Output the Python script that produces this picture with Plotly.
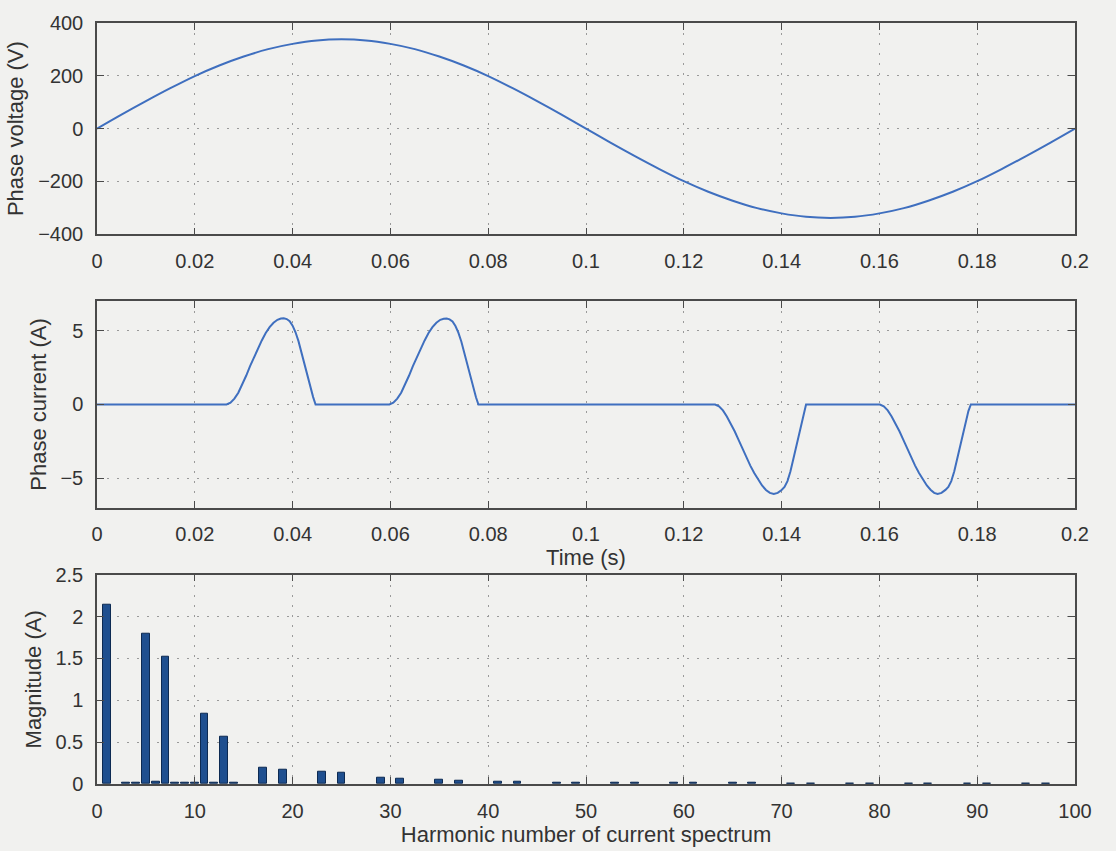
import plotly.graph_objects as go

# ---------------- data ----------------
volt_t = [0.000, 0.005, 0.010, 0.015, 0.020, 0.025, 0.030, 0.035, 0.040, 0.045,
          0.050, 0.055, 0.060, 0.065, 0.070, 0.075, 0.080, 0.085, 0.090, 0.095,
          0.100, 0.105, 0.110, 0.115, 0.120, 0.125, 0.130, 0.135, 0.140, 0.145,
          0.150, 0.155, 0.160, 0.165, 0.170, 0.175, 0.180, 0.185, 0.190, 0.195, 0.200]
volt_v = [0, 53, 104, 153, 199, 239, 273, 301, 321, 334,
          338, 334, 321, 301, 273, 239, 199, 153, 104, 53,
          0, -53, -104, -153, -199, -239, -273, -301, -321, -334,
          -338, -334, -321, -301, -273, -239, -199, -153, -104, -53, 0]

curr_t = [0.0000, 0.0100, 0.0200,
          0.0265, 0.0273, 0.0281, 0.0289, 0.0297, 0.0305, 0.0313, 0.0321, 0.0329, 0.0337,
          0.0345, 0.0353, 0.0361, 0.0369, 0.0376, 0.0382, 0.0388, 0.0394, 0.0400, 0.0406,
          0.0412, 0.0418, 0.0424, 0.0430, 0.0436, 0.0442, 0.0447,
          0.0500, 0.0550,
          0.0598, 0.0606, 0.0614, 0.0622, 0.0630, 0.0638, 0.0646, 0.0654, 0.0662, 0.0670,
          0.0678, 0.0686, 0.0694, 0.0702, 0.0709, 0.0715, 0.0721, 0.0727, 0.0733, 0.0739,
          0.0745, 0.0751, 0.0757, 0.0763, 0.0769, 0.0775, 0.0780,
          0.0900, 0.1000, 0.1100, 0.1200,
          0.1264, 0.1272, 0.1280, 0.1288, 0.1296, 0.1304, 0.1312, 0.1320, 0.1328, 0.1336,
          0.1344, 0.1352, 0.1360, 0.1368, 0.1376, 0.1384, 0.1392, 0.1400, 0.1406, 0.1412,
          0.1418, 0.1424, 0.1430, 0.1436, 0.1441, 0.1446, 0.1450,
          0.1500, 0.1550,
          0.1601, 0.1609, 0.1617, 0.1625, 0.1633, 0.1641, 0.1649, 0.1657, 0.1665, 0.1673,
          0.1681, 0.1689, 0.1697, 0.1705, 0.1712, 0.1719, 0.1727, 0.1735, 0.1741, 0.1747,
          0.1753, 0.1759, 0.1765, 0.1771, 0.1776, 0.1782, 0.1787,
          0.1850, 0.1900, 0.2000]
curr_i = [0.0, 0.0, 0.0,
          0.0, 0.12, 0.40, 0.80, 1.35, 1.95, 2.60, 3.20, 3.80, 4.35,
          4.85, 5.25, 5.55, 5.75, 5.84, 5.85, 5.80, 5.65, 5.35, 4.90,
          4.30, 3.55, 2.75, 1.90, 1.15, 0.50, 0.0,
          0.0, 0.0,
          0.0, 0.12, 0.40, 0.80, 1.35, 1.95, 2.60, 3.20, 3.80, 4.35,
          4.85, 5.25, 5.55, 5.75, 5.82, 5.83, 5.78, 5.63, 5.33, 4.88,
          4.28, 3.53, 2.73, 1.88, 1.13, 0.49, 0.0,
          0.0, 0.0, 0.0, 0.0,
          0.0, -0.12, -0.40, -0.82, -1.30, -1.82, -2.40, -3.00, -3.60, -4.15,
          -4.65, -5.10, -5.50, -5.80, -6.00, -6.07, -6.00, -5.80, -5.60, -5.20,
          -4.55, -3.70, -2.85, -2.00, -1.20, -0.45, 0.0,
          0.0, 0.0,
          0.0, -0.12, -0.40, -0.82, -1.30, -1.82, -2.40, -3.00, -3.60, -4.15,
          -4.65, -5.10, -5.50, -5.80, -6.00, -6.07, -6.00, -5.80, -5.60, -5.20,
          -4.55, -3.70, -2.85, -2.00, -1.20, -0.45, 0.0,
          0.0, 0.0, 0.0]

harm_n = [1, 3, 4, 5, 6, 7, 8, 9, 10, 11, 12, 13, 14, 17, 19, 23, 25, 29, 31, 35, 37,
          41, 43, 47, 49, 53, 55, 59, 61, 65, 67, 71, 73, 77, 79, 83, 85, 89, 91, 95, 97]
harm_mag = [2.14, 0.01, 0.02, 1.80, 0.03, 1.52, 0.02, 0.01, 0.01, 0.845, 0.02, 0.57, 0.01,
            0.20, 0.17, 0.15, 0.13, 0.07, 0.065, 0.05, 0.04,
            0.03, 0.03, 0.02, 0.02, 0.015, 0.015, 0.012, 0.012, 0.01, 0.01, 0.008, 0.008,
            0.007, 0.007, 0.006, 0.006, 0.005, 0.005, 0.004, 0.004]

time_ticks = [0, 0.02, 0.04, 0.06, 0.08, 0.1, 0.12, 0.14, 0.16, 0.18, 0.2]
time_labels = ["0", "0.02", "0.04", "0.06", "0.08", "0.1", "0.12", "0.14", "0.16", "0.18", "0.2"]
volt_ticks = [-400, -200, 0, 200, 400]
curr_ticks = [-5, 0, 5]
harm_ticks = [0, 10, 20, 30, 40, 50, 60, 70, 80, 90, 100]
mag_ticks = [0, 0.5, 1, 1.5, 2, 2.5]
mag_labels = ["0", "0.5", "1", "1.5", "2", "2.5"]

# ---------------- style ----------------
FONT = "Liberation Sans, Arial, Helvetica, sans-serif"
TXT = "#333333"
AX = "#4a4a4a"
GRID = "#9a9a9a"
BG = "#f1f1ef"
LINE = "#3f6fbf"

fig = go.Figure()
fig.add_trace(go.Scatter(x=volt_t, y=volt_v, mode="lines",
                         line=dict(color=LINE, width=2, shape="spline", smoothing=1.0),
                         xaxis="x", yaxis="y", showlegend=False))
fig.add_trace(go.Scatter(x=curr_t, y=curr_i, mode="lines",
                         line=dict(color=LINE, width=2),
                         xaxis="x2", yaxis="y2", showlegend=False))
fig.add_trace(go.Bar(x=harm_n, y=harm_mag, width=0.8,
                     marker=dict(color="#1f4f8f", line=dict(color="#0d2a52", width=1)),
                     xaxis="x3", yaxis="y3", showlegend=False))

common = dict(showline=True, linecolor=AX, linewidth=1.5, mirror="ticks",
              ticks="inside", ticklen=7, tickwidth=1.2, tickcolor=AX,
              showgrid=True, gridcolor=GRID, gridwidth=1, griddash="2px,8px",
              zeroline=False, tickfont=dict(family=FONT, size=20, color=TXT),
              ticklabelstandoff=8)
tfont = dict(family=FONT, size=22, color=TXT)

xdom = [0, 1]
fig.update_layout(
    width=1116, height=851,
    margin=dict(l=97, r=41, t=16, b=64),
    paper_bgcolor=BG, plot_bgcolor=BG,
    bargap=0,
    xaxis=dict(domain=xdom, range=[0, 0.2], tickvals=time_ticks, ticktext=time_labels,
               anchor="y", **common),
    yaxis=dict(domain=[0.7224, 1.0], range=[-400, 400], tickvals=volt_ticks,
               title=dict(text="Phase voltage (V)", font=tfont, standoff=8),
               anchor="x", **common),
    xaxis2=dict(domain=xdom, range=[0, 0.2], tickvals=time_ticks, ticktext=time_labels,
                title=dict(text="Time (s)", font=tfont, standoff=4),
                anchor="y2", **common),
    yaxis2=dict(domain=[0.3632, 0.6342], range=[-7, 7], tickvals=curr_ticks,
                title=dict(text="Phase current (A)", font=tfont, standoff=8),
                anchor="x2", **common),
    xaxis3=dict(domain=xdom, range=[0, 100], tickvals=harm_ticks,
                title=dict(text="Harmonic number of current spectrum", font=tfont, standoff=2),
                anchor="y3", **common),
    yaxis3=dict(domain=[0.0, 0.2750], range=[0, 2.5], tickvals=mag_ticks, ticktext=mag_labels,
                title=dict(text="Magnitude (A)", font=tfont, standoff=8),
                anchor="x3", **common),
)

fig.write_html("out.html")
